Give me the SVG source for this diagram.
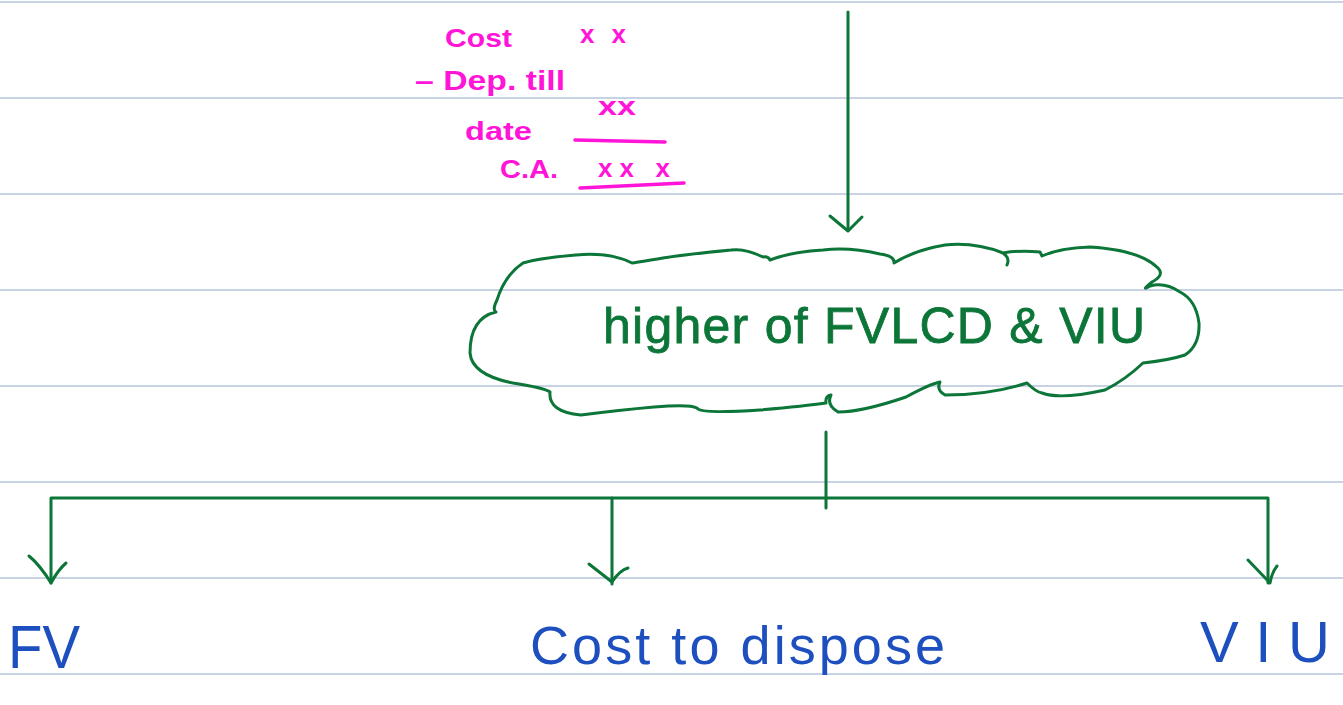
<svg xmlns="http://www.w3.org/2000/svg" width="1343" height="705" viewBox="0 0 1343 705">
<style>
.rule{stroke:#b4c3dc;stroke-width:1.5}
.g{stroke:#0c7538;stroke-width:3;fill:none;stroke-linecap:round;stroke-linejoin:round}
.gt{fill:#0c7538;font-family:"Liberation Sans",sans-serif;stroke:#0c7538;stroke-width:0.8}
.m{fill:#ff14d8;font-family:"Liberation Sans",sans-serif;font-weight:bold}
.mu{stroke:#ff14d8;stroke-width:3.5;stroke-linecap:round}
.b{fill:#1d4fbf;font-family:"Liberation Sans",sans-serif}
</style>
<rect width="1343" height="705" fill="#ffffff"/>
<g id="rules">
<line class="rule" x1="0" y1="2" x2="1343" y2="2"/>
<line class="rule" x1="0" y1="98" x2="1343" y2="98"/>
<line class="rule" x1="0" y1="194" x2="1343" y2="194"/>
<line class="rule" x1="0" y1="290" x2="1343" y2="290"/>
<line class="rule" x1="0" y1="386" x2="1343" y2="386"/>
<line class="rule" x1="0" y1="482" x2="1343" y2="482"/>
<line class="rule" x1="0" y1="578" x2="1343" y2="578"/>
<line class="rule" x1="0" y1="674" x2="1343" y2="674"/>
</g>
<g id="note">
<text class="m" x="445" y="47" font-size="26" textLength="67" lengthAdjust="spacingAndGlyphs">Cost</text>
<text class="m" x="580" y="43" font-size="26" textLength="46" lengthAdjust="spacing">x x</text>
<text class="m" x="415" y="90" font-size="28" textLength="150" lengthAdjust="spacingAndGlyphs">– Dep. till</text>
<text class="m" x="598" y="115" font-size="26" textLength="38" lengthAdjust="spacingAndGlyphs">xx</text>
<text class="m" x="465" y="140" font-size="26" textLength="67" lengthAdjust="spacingAndGlyphs">date</text>
<line class="mu" x1="575" y1="140" x2="665" y2="142"/>
<text class="m" x="500" y="178" font-size="26" textLength="58" lengthAdjust="spacingAndGlyphs">C.A.</text>
<text class="m" x="598" y="177" font-size="26" textLength="72" lengthAdjust="spacing">xx x</text>
<line class="mu" x1="580" y1="188" x2="684" y2="183"/>
</g>
<g id="cloud">
<path class="g" stroke-width="3.5" d="M496,312 Q470,318 470,353 Q472,375 513,383 Q545,388 550,392 Q548,412 581,415 Q620,410 654,407 Q690,404 697,408 Q700,414 760,410 Q805,406 826,403 Q825,396 831,395 Q826,405 838,412 Q862,412 906,397 Q930,384 940,382 Q936,390 945,395 Q990,395 1027,383 Q1036,392 1042,393 Q1060,400 1105,390 Q1125,380 1143,363 Q1170,360 1185,355 Q1200,345 1199,323 Q1196,300 1180,292 Q1165,282 1150,286 Q1140,292 1152,282 Q1165,275 1158,268 Q1140,250 1090,247 Q1060,248 1042,256 L1040,252 Q1020,250 1003,253 Q975,242 945,245 Q915,250 894,263 Q895,256 880,254 Q850,247 823,250 Q790,252 770,260 Q768,256 763,257 Q745,248 731,250 Q690,254 663,258 Q640,262 632,263 Q610,252 576,255 Q540,258 523,263 Q505,275 497,300 Q492,310 496,312 Z"/>
<path class="g" d="M1004,254 Q1010,258 1007,265"/>
<text class="gt" x="603" y="343" font-size="50" textLength="542" lengthAdjust="spacing">higher of FVLCD &amp; VIU</text>
</g>
<g id="connectors">
<line class="g" x1="848" y1="12" x2="848" y2="230"/>
<path class="g" d="M830,216 L848,231 L862,217"/>
<line class="g" x1="826" y1="432" x2="826" y2="508"/>
<path class="g" d="M51,583 L51,498 L1268,498 L1268,583" stroke-width="3.5"/>
<line class="g" x1="612" y1="498" x2="612" y2="584"/>
<path class="g" d="M29,556 Q40,565 51,583 Q58,570 66,563"/>
<path class="g" d="M589,564 L612,582 Q620,570 628,568"/>
<path class="g" d="M1248,560 L1270,583 Q1272,572 1277,566"/>
</g>
<g id="fv"><text class="b" x="8" y="668" font-size="62" textLength="72" lengthAdjust="spacingAndGlyphs">FV</text></g>
<g id="cost-to-dispose"><text class="b" x="530" y="664" font-size="54" textLength="415" lengthAdjust="spacing">Cost to dispose</text></g>
<g id="viu"><text class="b" x="1200" y="662" font-size="58" textLength="130" lengthAdjust="spacing">VIU</text></g>
</svg>
